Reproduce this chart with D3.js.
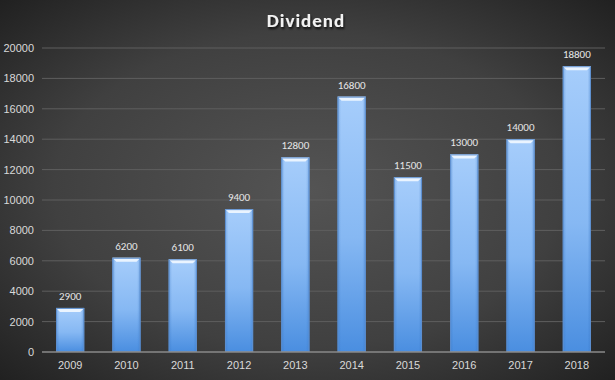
<!DOCTYPE html>
<html><head><meta charset="utf-8">
<script src="https://cdn.jsdelivr.net/npm/d3@7"></script>
<style>html,body{margin:0;padding:0;background:#333;}svg{display:block;}</style>
</head><body>
<script>
const years = ["2009","2010","2011","2012","2013","2014","2015","2016","2017","2018"];
const dividend = [2900,6200,6100,9400,12800,16800,11500,13000,14000,18800];
const yTicks = [0,2000,4000,6000,8000,10000,12000,14000,16000,18000,20000];
const title = "Dividend";

const W=615,H=380;
const svg=d3.select("body").append("svg").attr("width",W).attr("height",H)
  .style("font-family","Calibri, Carlito, 'Open Sans', sans-serif");
const defs=svg.append("defs");
const bg=defs.append("radialGradient").attr("id","bg").attr("cx","50%").attr("cy","50%").attr("r","75%");
bg.append("stop").attr("offset","0%").attr("stop-color","#545454");
bg.append("stop").attr("offset","55%").attr("stop-color","#404040");
bg.append("stop").attr("offset","100%").attr("stop-color","#1c1c1c");
svg.append("rect").attr("width",W).attr("height",H).attr("fill","url(#bg)");

const bar=defs.append("linearGradient").attr("id","bar").attr("x1",0).attr("y1",0).attr("x2",0).attr("y2",1);
bar.append("stop").attr("offset","0%").attr("stop-color","#a6cdfb");
bar.append("stop").attr("offset","55%").attr("stop-color","#86b8f3");
bar.append("stop").attr("offset","100%").attr("stop-color","#4a8ee0");
const side=defs.append("linearGradient").attr("id","side").attr("x1",0).attr("y1",0).attr("x2",1).attr("y2",0);
side.append("stop").attr("offset","0%").attr("stop-color","#2f6fc0").attr("stop-opacity",0.35);
side.append("stop").attr("offset","12%").attr("stop-color","#2f6fc0").attr("stop-opacity",0);
side.append("stop").attr("offset","88%").attr("stop-color","#2f6fc0").attr("stop-opacity",0);
side.append("stop").attr("offset","100%").attr("stop-color","#2f6fc0").attr("stop-opacity",0.35);
const sh=defs.append("filter").attr("id","ts").attr("x","-20%").attr("y","-20%").attr("width","140%").attr("height","160%");
sh.append("feDropShadow").attr("dx",1).attr("dy",2).attr("stdDeviation",1.2).attr("flood-color","#000").attr("flood-opacity",0.8);

const m={l:42,r:10,t:48,b:28};
const x=d3.scaleBand().domain(years).range([m.l,W-m.r]).paddingInner(0.5).paddingOuter(0.25);
const y=d3.scaleLinear().domain([0,20000]).range([352,48]);

// grid
svg.append("g").selectAll("line").data(yTicks.filter(d=>d>0)).join("line")
  .attr("x1",m.l).attr("x2",W-m.r).attr("y1",d=>y(d)).attr("y2",d=>y(d))
  .attr("stroke","#5e5e5e").attr("stroke-width",1);

// y axis labels
const ya=svg.append("g").attr("transform",`translate(${m.l},0)`)
  .call(d3.axisLeft(y).tickValues(yTicks).tickSize(0).tickPadding(8).tickFormat(d3.format("d")));
ya.select(".domain").remove();
ya.selectAll("text").attr("fill","#d9d9d9").attr("font-size",11).attr("x",-8);

// bars
const g=svg.append("g");
const bw=x.bandwidth();
g.selectAll("rect.b").data(dividend).join("rect").attr("class","b")
  .attr("x",(d,i)=>x(years[i])).attr("width",bw)
  .attr("y",d=>y(d)).attr("height",d=>y(0)-y(d)).attr("fill","url(#bar)");
g.selectAll("rect.s").data(dividend).join("rect").attr("class","s")
  .attr("x",(d,i)=>x(years[i])).attr("width",bw)
  .attr("y",d=>y(d)).attr("height",d=>y(0)-y(d)).attr("fill","url(#side)");
// bevel top
g.selectAll("path.bev").data(dividend).join("path").attr("class","bev")
  .attr("d",(d,i)=>{const x0=x(years[i]),x1=x0+bw,t=y(d);return `M${x0},${t}L${x1},${t}L${x1-4},${t+4}L${x0+4},${t+4}Z`;})
  .attr("fill","#eaf4ff");
g.selectAll("rect.o").data(dividend).join("rect").attr("class","o")
  .attr("x",(d,i)=>x(years[i])+0.5).attr("width",bw-1)
  .attr("y",d=>y(d)+0.5).attr("height",d=>y(0)-y(d)-1).attr("fill","none")
  .attr("stroke","#5d8fcf").attr("stroke-width",1);

// value labels
g.selectAll("text.v").data(dividend).join("text").attr("class","v")
  .attr("x",(d,i)=>x(years[i])+bw/2).attr("y",d=>y(d)-8)
  .attr("text-anchor","middle").attr("fill","#e6e6e6").attr("font-size",11)
  .text(d=>d);

// x axis
svg.append("line").attr("x1",m.l).attr("x2",W-m.r).attr("y1",y(0)).attr("y2",y(0))
  .attr("stroke","#8a8a8a").attr("stroke-width",1.5);
const xa=svg.append("g").attr("transform",`translate(0,${y(0)})`)
  .call(d3.axisBottom(x).tickSize(0).tickPadding(9));
xa.select(".domain").remove();
xa.selectAll("text").attr("fill","#d9d9d9").attr("font-size",11);

svg.append("text").attr("x",306).attr("y",27).attr("text-anchor","middle")
  .attr("fill","#f2f2f2").attr("font-size",19).attr("font-weight","bold")
  .attr("letter-spacing","1px").attr("filter","url(#ts)").text(title);
</script>
</body></html>
